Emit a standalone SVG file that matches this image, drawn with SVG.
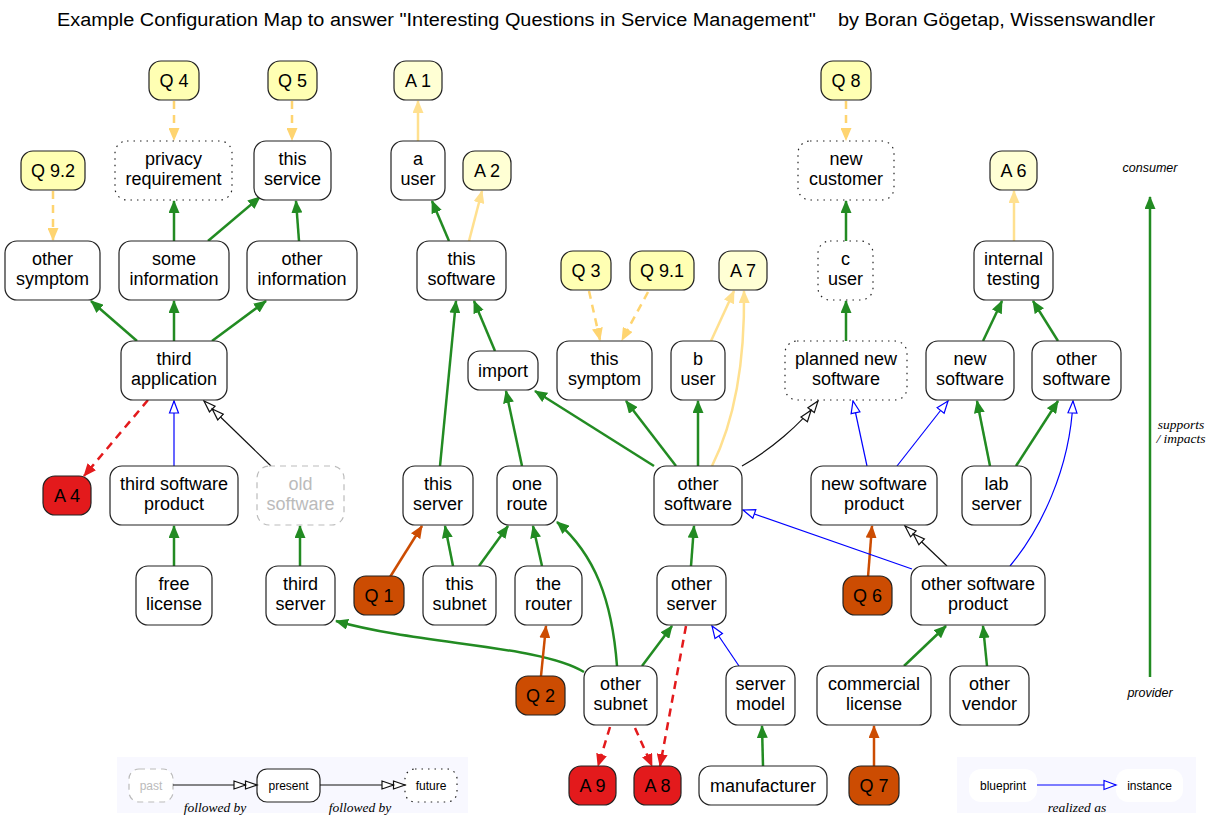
<svg xmlns="http://www.w3.org/2000/svg" width="1213" height="829" viewBox="0 0 1213 829">
<style>
.n{fill:#fff;stroke:#222;stroke-width:1.2}
.dot{fill:#fff;stroke:#222;stroke-width:1.2;stroke-dasharray:1.5,5}
.old{fill:#fff;stroke:#bbb;stroke-width:1.2;stroke-dasharray:6,5}
.qy{fill:#ffffb3;stroke:#222;stroke-width:1.2}
.ay{fill:#ffffd4;stroke:#222;stroke-width:1.2}
.qo{fill:#cc4c02;stroke:#222;stroke-width:1.2}
.ar{fill:#e31a1c;stroke:#222;stroke-width:1.2}
.wh{fill:#fff;stroke:none}
text{font-family:"Liberation Sans",Arial,sans-serif}
.t{font-size:18px;text-anchor:middle;fill:#000}
.tg{font-size:18px;text-anchor:middle;fill:#bbb}
.lt{font-size:12px;text-anchor:middle;fill:#000}
.ltg{font-size:12px;text-anchor:middle;fill:#bbb}
.it{font-family:"Liberation Serif","Times New Roman",serif;font-style:italic;font-size:13.5px;text-anchor:middle;fill:#000}
.is{font-style:italic;font-size:12.5px;text-anchor:middle;fill:#000}
.eg{fill:none;stroke:#228b22;stroke-width:2.5;marker-end:url(#mg)}
.eq{fill:none;stroke:#fed470;stroke-width:2.5;stroke-dasharray:8,6;marker-end:url(#mq)}
.ea{fill:none;stroke:#ffe08f;stroke-width:2.5;marker-end:url(#ma)}
.er{fill:none;stroke:#e31a1c;stroke-width:2.5;stroke-dasharray:8,6;marker-end:url(#mr)}
.eo{fill:none;stroke:#cc4c02;stroke-width:2.5;marker-end:url(#mo)}
.eb{fill:none;stroke:#0000ff;stroke-width:1.2;marker-end:url(#mb)}
.ek{fill:none;stroke:#111;stroke-width:1.2;marker-end:url(#mk)}
</style>
<defs>
<marker id="mg" markerWidth="14" markerHeight="11" refX="12" refY="5.5" orient="auto" markerUnits="userSpaceOnUse"><path d="M0,0 L13,5.5 L0,11 z" fill="#228b22"/></marker>
<marker id="mq" markerWidth="14" markerHeight="11" refX="12" refY="5.5" orient="auto" markerUnits="userSpaceOnUse"><path d="M0,0 L13,5.5 L0,11 z" fill="#fed470"/></marker>
<marker id="ma" markerWidth="14" markerHeight="11" refX="12" refY="5.5" orient="auto" markerUnits="userSpaceOnUse"><path d="M0,0 L13,5.5 L0,11 z" fill="#ffe08f"/></marker>
<marker id="mr" markerWidth="14" markerHeight="11" refX="12" refY="5.5" orient="auto" markerUnits="userSpaceOnUse"><path d="M0,0 L13,5.5 L0,11 z" fill="#e31a1c"/></marker>
<marker id="mo" markerWidth="14" markerHeight="11" refX="12" refY="5.5" orient="auto" markerUnits="userSpaceOnUse"><path d="M0,0 L13,5.5 L0,11 z" fill="#cc4c02"/></marker>
<marker id="mb" markerWidth="15" markerHeight="12" refX="13" refY="6" orient="auto" markerUnits="userSpaceOnUse"><path d="M1,1.5 L13,6 L1,10.5 z" fill="#fff" stroke="#0000ff" stroke-width="1.2"/></marker>
<marker id="mk" markerWidth="26" markerHeight="12" refX="24" refY="6" orient="auto" markerUnits="userSpaceOnUse"><path d="M1,2 L12.5,6 L1,10 z M12.5,2 L24,6 L12.5,10 z" fill="#fff" stroke="#111" stroke-width="1.2"/></marker>
</defs>
<rect width="1213" height="829" fill="#fff"/>
<text x="57" y="26" textLength="1098" lengthAdjust="spacingAndGlyphs" style="font-size:18px;fill:#000">Example Configuration Map to answer "Interesting Questions in Service Management"&#160;&#160;&#160;&#160;by Boran Gögetap, Wissenswandler</text>

<g id="legend">
<rect x="117" y="757" width="351" height="56" fill="#f8f8ff"/>
<rect x="957" y="757" width="239" height="56" fill="#f8f8ff"/>
<rect x="129" y="769" width="44" height="33" rx="10" class="old"/>
<text x="151" y="789.5" class="ltg">past</text>
<rect x="257" y="769" width="63" height="33" rx="10" class="n"/>
<text x="288.5" y="789.5" class="lt">present</text>
<rect x="405" y="769" width="52" height="33" rx="10" class="dot"/>
<text x="431" y="789.5" class="lt">future</text>
<path d="M173,785 L257,785" class="ek"/>
<path d="M320,785 L405,785" class="ek"/>
<text x="215" y="812" class="it">followed by</text>
<text x="360" y="812" class="it">followed by</text>
<rect x="969" y="769" width="68" height="33" rx="12" class="wh"/>
<text x="1003" y="789.5" class="lt">blueprint</text>
<rect x="1116" y="769" width="67" height="33" rx="12" class="wh"/>
<text x="1149.5" y="789.5" class="lt">instance</text>
<path d="M1037,785 L1116,785" class="eb"/>
<text x="1077" y="812" class="it">realized as</text>
<text x="1150" y="172" class="is">consumer</text>
<text x="1150" y="697" class="is">provider</text>
<text x="1181" y="429" class="it">supports</text>
<text x="1181" y="443" class="it">/ impacts</text>
</g>

<g id="connectors">
<path d="M1150,677 L1150,197" class="eg"/>
<path d="M174,241 L174,201" class="eg"/>
<path d="M208,241 L260,197" class="eg"/>
<path d="M299,241 L296,201" class="eg"/>
<path d="M137,341 L91,301" class="eg"/>
<path d="M174,341 L174,301" class="eg"/>
<path d="M212,341 L266,301" class="eg"/>
<path d="M449,241 L432,201" class="eg"/>
<path d="M440,466 L456,301" class="eg"/>
<path d="M495,351 L474,301" class="eg"/>
<path d="M654,466 L535,391" class="eg"/>
<path d="M676,466 L626,401" class="eg"/>
<path d="M698,466 L698,401" class="eg"/>
<path d="M846,241 L846,201" class="eg"/>
<path d="M846,341 L846,301" class="eg"/>
<path d="M983,341 L1002,301" class="eg"/>
<path d="M1058,341 L1033,301" class="eg"/>
<path d="M990,466 L977,401" class="eg"/>
<path d="M1016,466 L1058,401" class="eg"/>
<path d="M174,566 L174,526" class="eg"/>
<path d="M300,566 L300,526" class="eg"/>
<path d="M453,566 L445,526" class="eg"/>
<path d="M479,566 L508,526" class="eg"/>
<path d="M542,566 L533,526" class="eg"/>
<path d="M522,466 L506,391" class="eg"/>
<path d="M617,666 C612,600 595,555 557,522" class="eg"/>
<path d="M584,672 C540,645 420,645 336,621" class="eg"/>
<path d="M642,666 L672,626" class="eg"/>
<path d="M691,566 L694,526" class="eg"/>
<path d="M763,766 L762,726" class="eg"/>
<path d="M904,666 L946,626" class="eg"/>
<path d="M987,666 L983,626" class="eg"/>

<path d="M174,101 L174,140" class="eq"/>
<path d="M292,101 L292,140" class="eq"/>
<path d="M53,191 L53,240" class="eq"/>
<path d="M589,291 L600,340" class="eq"/>
<path d="M648,292 L622,340" class="eq"/>
<path d="M846,101 L846,140" class="eq"/>

<path d="M418,141 L418,101" class="ea"/>
<path d="M469,241 L482,191" class="ea"/>
<path d="M711,341 L734,291" class="ea"/>
<path d="M712,466 C735,420 745,360 744,291" class="ea"/>
<path d="M1014,241 L1014,191" class="ea"/>

<path d="M148,400 L84,476" class="er"/>
<path d="M686,626 L660,766" class="er"/>
<path d="M610,727 L598,766" class="er"/>
<path d="M635,728 L652,766" class="er"/>

<path d="M390,577 L422,526" class="eo"/>
<path d="M541,676 L546,626" class="eo"/>
<path d="M868,577 L872,526" class="eo"/>
<path d="M874,766 L874,726" class="eo"/>

<path d="M174,466 L174,401" class="eb"/>
<path d="M867,466 L853,401" class="eb"/>
<path d="M897,466 L948,401" class="eb"/>
<path d="M1010,566 C1040,530 1070,470 1073,401" class="eb"/>
<path d="M912,569 L743,510" class="eb"/>
<path d="M739,666 L712,626" class="eb"/>

<path d="M271,466 L204,401" class="ek"/>
<path d="M742,466 C770,450 800,425 818,401" class="ek"/>
<path d="M947,566 L905,526" class="ek"/>
</g>

<g id="Q4"><rect x="149" y="61" width="50" height="39" rx="12" class="qy"/><text x="174" y="87" class="t">Q 4</text></g>
<g id="Q5"><rect x="268" y="61" width="49" height="39" rx="12" class="qy"/><text x="292.5" y="87" class="t">Q 5</text></g>
<g id="A1"><rect x="394" y="61" width="48" height="39" rx="12" class="ay"/><text x="418" y="87" class="t">A 1</text></g>
<g id="Q8"><rect x="821" y="61" width="50" height="39" rx="12" class="qy"/><text x="846" y="87" class="t">Q 8</text></g>

<g id="Q92"><rect x="21" y="151" width="64" height="39" rx="12" class="qy"/><text x="53" y="177" class="t">Q 9.2</text></g>
<g id="privacy"><rect x="115" y="141" width="117" height="59" rx="12" class="dot"/><text x="173.5" y="165" class="t">privacy</text><text x="173.5" y="185" class="t">requirement</text></g>
<g id="thisService"><rect x="254" y="141" width="77" height="59" rx="12" class="n"/><text x="292.5" y="165" class="t">this</text><text x="292.5" y="185" class="t">service</text></g>
<g id="aUser"><rect x="391" y="141" width="54" height="59" rx="12" class="n"/><text x="418" y="165" class="t">a</text><text x="418" y="185" class="t">user</text></g>
<g id="A2"><rect x="463" y="151" width="48" height="39" rx="12" class="ay"/><text x="487" y="177" class="t">A 2</text></g>
<g id="newCustomer"><rect x="798" y="141" width="96" height="59" rx="12" class="dot"/><text x="846" y="165" class="t">new</text><text x="846" y="185" class="t">customer</text></g>
<g id="A6"><rect x="990" y="151" width="47" height="39" rx="12" class="ay"/><text x="1013.5" y="177" class="t">A 6</text></g>

<g id="otherSymptom"><rect x="5" y="241" width="95" height="59" rx="12" class="n"/><text x="52.5" y="265" class="t">other</text><text x="52.5" y="285" class="t">symptom</text></g>
<g id="someInformation"><rect x="119" y="241" width="110" height="59" rx="12" class="n"/><text x="174" y="265" class="t">some</text><text x="174" y="285" class="t">information</text></g>
<g id="otherInformation"><rect x="247" y="241" width="110" height="59" rx="12" class="n"/><text x="302" y="265" class="t">other</text><text x="302" y="285" class="t">information</text></g>
<g id="thisSoftware"><rect x="417" y="241" width="89" height="59" rx="12" class="n"/><text x="461.5" y="265" class="t">this</text><text x="461.5" y="285" class="t">software</text></g>
<g id="Q3"><rect x="561" y="251" width="50" height="39" rx="12" class="qy"/><text x="586" y="277" class="t">Q 3</text></g>
<g id="Q91"><rect x="630" y="251" width="64" height="39" rx="12" class="qy"/><text x="662" y="277" class="t">Q 9.1</text></g>
<g id="A7"><rect x="719" y="251" width="48" height="39" rx="12" class="ay"/><text x="743" y="277" class="t">A 7</text></g>
<g id="cUser"><rect x="818" y="241" width="55" height="59" rx="12" class="dot"/><text x="845.5" y="265" class="t">c</text><text x="845.5" y="285" class="t">user</text></g>
<g id="internalTesting"><rect x="974" y="241" width="79" height="59" rx="12" class="n"/><text x="1013.5" y="265" class="t">internal</text><text x="1013.5" y="285" class="t">testing</text></g>

<g id="thirdApplication"><rect x="121" y="341" width="106" height="59" rx="12" class="n"/><text x="174" y="365" class="t">third</text><text x="174" y="385" class="t">application</text></g>
<g id="import"><rect x="468" y="351" width="70" height="39" rx="12" class="n"/><text x="503" y="377" class="t">import</text></g>
<g id="thisSymptom"><rect x="557" y="341" width="95" height="59" rx="12" class="n"/><text x="604.5" y="365" class="t">this</text><text x="604.5" y="385" class="t">symptom</text></g>
<g id="bUser"><rect x="671" y="341" width="54" height="59" rx="12" class="n"/><text x="698" y="365" class="t">b</text><text x="698" y="385" class="t">user</text></g>
<g id="plannedNewSoftware"><rect x="785" y="341" width="122" height="59" rx="12" class="dot"/><text x="846" y="365" class="t">planned new</text><text x="846" y="385" class="t">software</text></g>
<g id="newSoftware"><rect x="926" y="341" width="88" height="59" rx="12" class="n"/><text x="970" y="365" class="t">new</text><text x="970" y="385" class="t">software</text></g>
<g id="otherSoftwareR"><rect x="1032" y="341" width="89" height="59" rx="12" class="n"/><text x="1076.5" y="365" class="t">other</text><text x="1076.5" y="385" class="t">software</text></g>

<g id="A4"><rect x="43" y="476" width="48" height="39" rx="12" class="ar"/><text x="67" y="502" class="t">A 4</text></g>
<g id="thirdSoftwareProduct"><rect x="110" y="466" width="128" height="59" rx="12" class="n"/><text x="174" y="490" class="t">third software</text><text x="174" y="510" class="t">product</text></g>
<g id="oldSoftware"><rect x="257" y="466" width="87" height="59" rx="12" class="old"/><text x="300.5" y="490" class="tg">old</text><text x="300.5" y="510" class="tg">software</text></g>
<g id="thisServer"><rect x="403" y="466" width="70" height="59" rx="12" class="n"/><text x="438" y="490" class="t">this</text><text x="438" y="510" class="t">server</text></g>
<g id="oneRoute"><rect x="497" y="466" width="60" height="59" rx="12" class="n"/><text x="527" y="490" class="t">one</text><text x="527" y="510" class="t">route</text></g>
<g id="otherSoftwareC"><rect x="654" y="466" width="88" height="59" rx="12" class="n"/><text x="698" y="490" class="t">other</text><text x="698" y="510" class="t">software</text></g>
<g id="newSoftwareProduct"><rect x="811" y="466" width="126" height="59" rx="12" class="n"/><text x="874" y="490" class="t">new software</text><text x="874" y="510" class="t">product</text></g>
<g id="labServer"><rect x="962" y="466" width="69" height="59" rx="12" class="n"/><text x="996.5" y="490" class="t">lab</text><text x="996.5" y="510" class="t">server</text></g>

<g id="freeLicense"><rect x="136" y="566" width="76" height="59" rx="12" class="n"/><text x="174" y="590" class="t">free</text><text x="174" y="610" class="t">license</text></g>
<g id="thirdServer"><rect x="266" y="566" width="69" height="59" rx="12" class="n"/><text x="300.5" y="590" class="t">third</text><text x="300.5" y="610" class="t">server</text></g>
<g id="Q1"><rect x="354" y="576" width="50" height="39" rx="12" class="qo"/><text x="379" y="602" class="t">Q 1</text></g>
<g id="thisSubnet"><rect x="423" y="566" width="73" height="59" rx="12" class="n"/><text x="459.5" y="590" class="t">this</text><text x="459.5" y="610" class="t">subnet</text></g>
<g id="theRouter"><rect x="515" y="566" width="67" height="59" rx="12" class="n"/><text x="548.5" y="590" class="t">the</text><text x="548.5" y="610" class="t">router</text></g>
<g id="otherServer"><rect x="657" y="566" width="69" height="59" rx="12" class="n"/><text x="691.5" y="590" class="t">other</text><text x="691.5" y="610" class="t">server</text></g>
<g id="Q6"><rect x="843" y="576" width="49" height="39" rx="12" class="qo"/><text x="867.5" y="602" class="t">Q 6</text></g>
<g id="otherSoftwareProduct"><rect x="911" y="566" width="134" height="59" rx="12" class="n"/><text x="978" y="590" class="t">other software</text><text x="978" y="610" class="t">product</text></g>

<g id="Q2"><rect x="516" y="676" width="49" height="39" rx="12" class="qo"/><text x="540.5" y="702" class="t">Q 2</text></g>
<g id="otherSubnet"><rect x="584" y="666" width="73" height="59" rx="12" class="n"/><text x="620.5" y="690" class="t">other</text><text x="620.5" y="710" class="t">subnet</text></g>
<g id="serverModel"><rect x="726" y="666" width="69" height="59" rx="12" class="n"/><text x="760.5" y="690" class="t">server</text><text x="760.5" y="710" class="t">model</text></g>
<g id="commercialLicense"><rect x="817" y="666" width="114" height="59" rx="12" class="n"/><text x="874" y="690" class="t">commercial</text><text x="874" y="710" class="t">license</text></g>
<g id="otherVendor"><rect x="950" y="666" width="79" height="59" rx="12" class="n"/><text x="989.5" y="690" class="t">other</text><text x="989.5" y="710" class="t">vendor</text></g>

<g id="A9"><rect x="569" y="766" width="47" height="39" rx="12" class="ar"/><text x="592.5" y="792" class="t">A 9</text></g>
<g id="A8"><rect x="634" y="766" width="47" height="39" rx="12" class="ar"/><text x="657.5" y="792" class="t">A 8</text></g>
<g id="manufacturer"><rect x="699" y="766" width="128" height="39" rx="12" class="n"/><text x="763" y="792" class="t">manufacturer</text></g>
<g id="Q7"><rect x="849" y="766" width="50" height="39" rx="12" class="qo"/><text x="874" y="792" class="t">Q 7</text></g>
</svg>
